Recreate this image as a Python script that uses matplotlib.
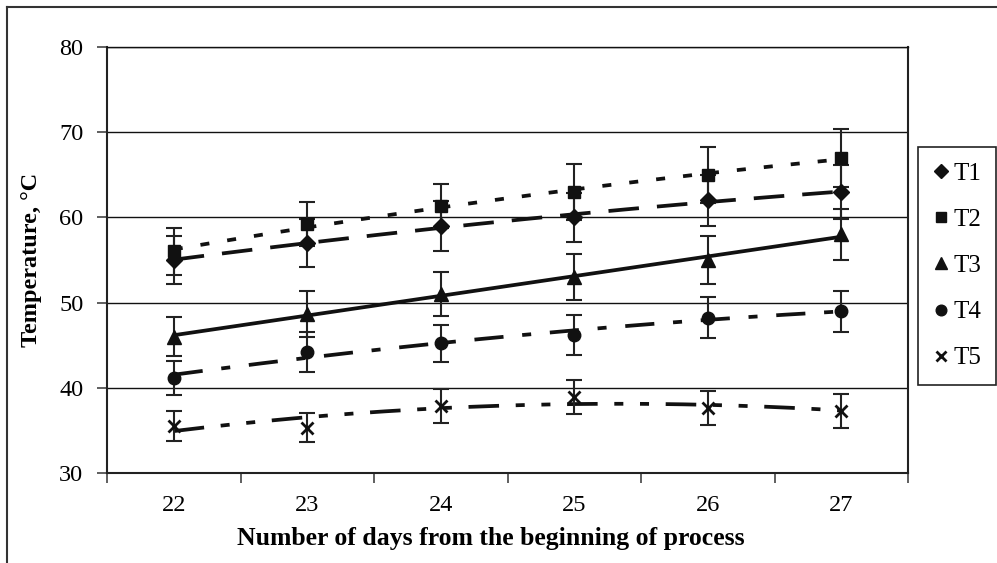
import numpy as np
import matplotlib
matplotlib.use("Agg")
import matplotlib.pyplot as plt
from matplotlib.lines import Line2D

plt.rcParams['font.family'] = ['Liberation Serif', 'DejaVu Serif']
plt.rcParams['lines.scale_dashes'] = False

# Data
days = [22, 23, 24, 25, 26, 27]
t1 = [55.0, 57.0, 59.0, 60.0, 62.0, 63.0]
t2 = [56.0, 59.2, 61.3, 63.0, 65.0, 67.0]
t3 = [46.0, 48.7, 51.0, 53.0, 55.0, 58.0]
t4 = [41.2, 44.2, 45.2, 46.2, 48.2, 49.0]
t5 = [35.5, 35.3, 37.9, 38.9, 37.6, 37.3]
t1_err = [2.8, 2.8, 2.9, 2.9, 3.0, 3.2]
t2_err = [2.8, 2.6, 2.6, 3.3, 3.3, 3.4]
t3_err = [2.3, 2.7, 2.6, 2.7, 2.8, 3.0]
t4_err = [2.0, 2.4, 2.2, 2.3, 2.4, 2.4]
t5_err = [1.8, 1.7, 2.0, 2.0, 2.0, 2.0]
labels = ['T1', 'T2', 'T3', 'T4', 'T5']

series = [t1, t2, t3, t4, t5]
errors = [t1_err, t2_err, t3_err, t4_err, t5_err]
markers = ['D', 's', '^', 'o', 'x']
msizes = [8, 8, 10, 9, 9]
# trendline order and dash pattern (in points)
fit_deg = [2, 2, 1, 2, 2]
dashes = [(22, 13), (6.5, 13), None, (21, 13.5, 6.5, 13.5),
          (22, 12, 6.5, 12, 6.5, 12)]

ink = '#111111'

fig = plt.figure(figsize=(9.97, 5.63), dpi=100)
ax = fig.add_axes([107/997, 1-473/563, (908-107)/997, (473-47)/563])

x = np.array(days, dtype=float)
xs = np.linspace(days[0], days[-1], 200)
for y, err, m, ms, deg, dsh, lab in zip(series, errors, markers, msizes,
                                        fit_deg, dashes, labels):
    coef = np.polyfit(x, y, deg)
    ln, = ax.plot(xs, np.polyval(coef, xs), color=ink, lw=2.7, zorder=3,
                  solid_capstyle='butt', dash_capstyle='butt')
    if dsh is not None:
        ln.set_dashes(dsh)
    ax.errorbar(x, y, yerr=err, fmt='none', ecolor='#222222',
                elinewidth=1.5, capsize=6, capthick=1.5, zorder=4)
    ax.plot(x, y, linestyle='none', marker=m, ms=ms, color=ink,
            mew=2 if m == 'x' else 1, zorder=5, label=lab)

ax.set_xlim(21.5, 27.5)
ax.set_ylim(30, 80)
ax.set_yticks(range(30, 81, 10))
ax.set_xticks(np.arange(21.5, 27.6, 1.0))
ax.set_xticklabels([])
ax.set_xticks(days, minor=True)
ax.set_xticklabels([str(d) for d in days], minor=True)
ax.tick_params(axis='x', which='major', length=7, width=1.2, direction='out', color='#444444')
ax.tick_params(axis='x', which='minor', length=0, pad=16, labelsize=17.5)
ax.tick_params(axis='y', length=7, width=1.2, direction='out', pad=10,
               labelsize=17.5, color='#444444')

ax.yaxis.grid(True, color=ink, lw=1.0)
ax.set_axisbelow(True)
for s in ['left', 'bottom', 'right']:
    ax.spines[s].set_linewidth(1.5)
    ax.spines[s].set_color('#222222')
ax.spines['top'].set_linewidth(1.0)
ax.spines['top'].set_color(ink)

ax.set_ylabel('Temperature, °C', fontsize=17.5, fontweight='bold', labelpad=12)
fig.text(491/997, 1-539/563, 'Number of days from the beginning of process',
         ha='center', va='center', fontsize=18.5, fontweight='bold')

leg = fig.legend(loc='upper left', bbox_to_anchor=(918/997, 1-147/563),
                 fontsize=18, frameon=True, fancybox=False, edgecolor='#222222',
                 framealpha=1, labelspacing=0.95, handlelength=0.6,
                 handletextpad=0.2, borderpad=0.6, borderaxespad=0,
                 markerscale=0.85)
leg.get_frame().set_linewidth(1.2)

# outer chart border (left and top visible)
fig.add_artist(Line2D([7/997, 7/997], [0, 1-7/563], color='#333333', lw=1.5))
fig.add_artist(Line2D([7/997, 1], [1-7/563, 1-7/563], color='#333333', lw=1.5))

fig.savefig('out.png', dpi=100)
